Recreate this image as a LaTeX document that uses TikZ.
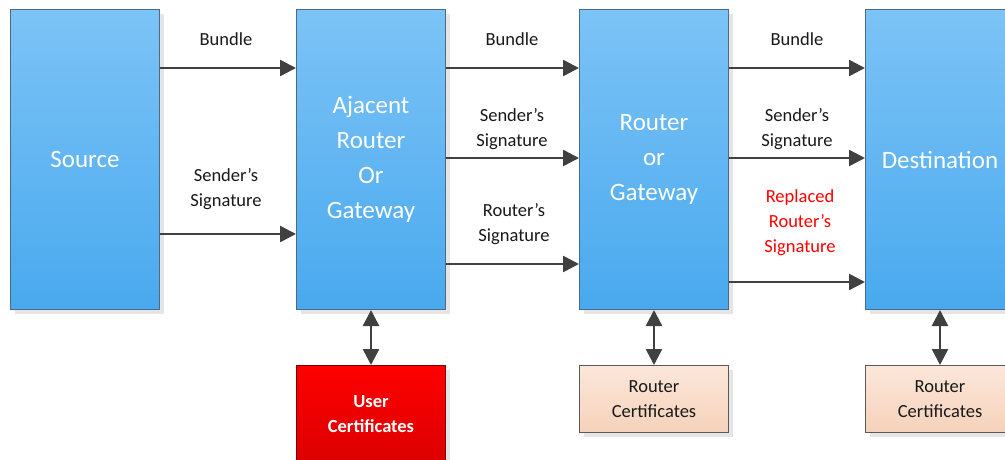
\documentclass[tikz,border=0pt]{standalone}
\usepackage{fontspec}
\setmainfont{Carlito}
\usetikzlibrary{arrows.meta,shadows}
\definecolor{bluetop}{HTML}{7CC3F6}
\definecolor{bluebot}{HTML}{49A9EE}
\definecolor{blueedge}{HTML}{4A6A88}
\definecolor{redtop}{HTML}{FF0000}
\definecolor{redbot}{HTML}{DC0000}
\definecolor{peachtop}{HTML}{FCE7DA}
\definecolor{peachbot}{HTML}{F5D2BA}
\definecolor{arrowgray}{HTML}{404040}
\tikzset{
  boxshadow/.style={drop shadow={shadow xshift=4pt,shadow yshift=-4pt,fill=black!10,opacity=1}},
  bluebox/.style={rectangle,draw=blueedge,line width=1pt,top color=bluetop,bottom color=bluebot,
    boxshadow,minimum width=149pt,minimum height=300pt,anchor=north west,inner sep=0pt,
    text=white,align=center,font=\fontsize{25}{35}\selectfont},
  certbox/.style={rectangle,draw=black!65,line width=1pt,top color=peachtop,bottom color=peachbot,
    boxshadow,minimum width=149pt,minimum height=67pt,anchor=north west,inner sep=0pt,
    text=black!90,align=center,font=\fontsize{18.5}{25}\selectfont},
  userbox/.style={rectangle,draw=red!50!black,line width=1pt,top color=redtop,bottom color=redbot,
    boxshadow,minimum width=149pt,minimum height=97pt,anchor=north west,inner sep=0pt,
    text=white,align=center,font=\bfseries\fontsize{18.5}{25}\selectfont},
  flow/.style={draw=arrowgray,line width=2.5pt,-{Triangle[length=16pt,width=16pt]}},
  link/.style={draw=arrowgray,line width=2.5pt,{Triangle[length=16pt,width=16pt]}-{Triangle[length=16pt,width=16pt]}},
  lbl/.style={text=black!90,align=center,inner sep=0pt,font=\fontsize{18.5}{25}\selectfont},
  redlbl/.style={lbl,text=red}
}
\begin{document}
\begin{tikzpicture}[x=1pt,y=-1pt]
\clip (0,0) rectangle (1005,459);
\fill[white] (0,0) rectangle (1005,459);

% main boxes
\node[bluebox] (src) at (10,9) {Source};
\node[bluebox] (adj) at (296,9) {\raisebox{-2pt}{\parbox{140pt}{\centering Ajacent\\Router\\Or\\Gateway}}};
\node[bluebox] (rtr) at (579,9) {\raisebox{-2pt}{\parbox{140pt}{\centering Router\\or\\Gateway}}};
\node[bluebox] (dst) at (865,9) {Destination};

% certificate stores
\node[userbox] (ucert) at (296,365) {User\\Certificates};
\node[certbox] (rcert) at (579,365) {Router\\Certificates};
\node[certbox] (dcert) at (865,365) {Router\\Certificates};

% source to adjacent router
\draw[flow] ([yshift=-59pt]src.north east) -- ([yshift=-59pt]adj.north west);
\draw[flow] ([yshift=-225pt]src.north east) -- ([yshift=-225pt]adj.north west);
\node[lbl] (l1) at (226,39) {Bundle};
\node[lbl] (l2) at (226,189) {Sender’s\\Signature};

% adjacent router to router
\draw[flow] ([yshift=-59pt]adj.north east) -- ([yshift=-59pt]rtr.north west);
\draw[flow] ([yshift=-149pt]adj.north east) -- ([yshift=-149pt]rtr.north west);
\draw[flow] ([yshift=-255pt]adj.north east) -- ([yshift=-255pt]rtr.north west);
\node[lbl] (l3) at (512,39) {Bundle};
\node[lbl] (l4) at (512,129) {Sender’s\\Signature};
\node[lbl] (l5) at (514,224) {Router’s\\Signature};

% router to destination
\draw[flow] ([yshift=-59pt]rtr.north east) -- ([yshift=-59pt]dst.north west);
\draw[flow] ([yshift=-149pt]rtr.north east) -- ([yshift=-149pt]dst.north west);
\draw[flow] ([yshift=-273pt]rtr.north east) -- ([yshift=-273pt]dst.north west);
\node[lbl] (l6) at (797,39) {Bundle};
\node[lbl] (l7) at (797,129) {Sender’s\\Signature};
\node[redlbl] (l8) at (800,223) {Replaced\\Router’s\\Signature};

% certificate lookups
\draw[link] (adj.south) -- (ucert.north);
\draw[link] (rtr.south) -- (rcert.north);
\draw[link] (dst.south) -- (dcert.north);
\end{tikzpicture}
\end{document}
